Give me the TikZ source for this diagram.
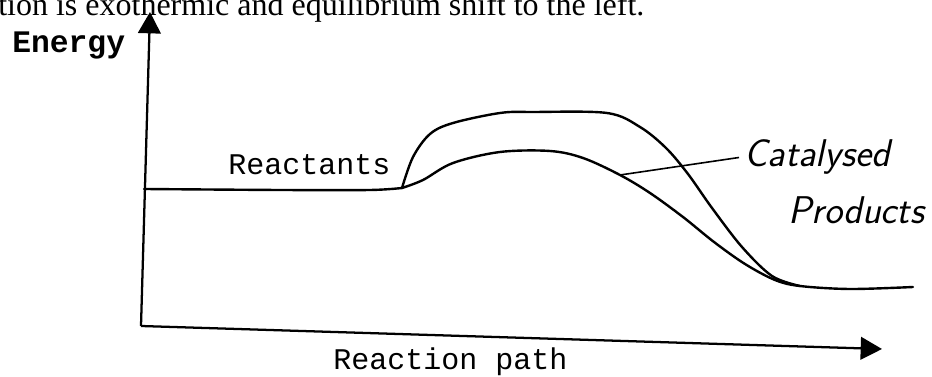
\documentclass[tikz,border=0pt]{standalone}
\usepackage{fontspec}
\setmainfont{Liberation Serif}
\newfontfamily\typefont{Liberation Mono}
\usetikzlibrary{arrows.meta}

\begin{document}
\begin{tikzpicture}[x=0.75pt,y=-0.75pt,
  axis/.style={line width=1.7pt,-{Triangle[length=16pt,width=17pt]}},
  curve/.style={line width=1.8pt,line cap=round,line join=round},
  axistext/.style={font=\typefont\fontsize{22.5}{26}\selectfont,inner sep=0pt,anchor=base west},
  handtext/.style={font=\sffamily\itshape\fontsize{29}{32}\selectfont,inner xsep=4pt,inner ysep=0pt,anchor=base west}]
  \useasboundingbox (0,0) rectangle (932,377);
  \node[anchor=base west,inner sep=0pt,font=\fontsize{24}{28}\selectfont] (caption) at (-2,16) {tion is exothermic and equilibrium shift to the left.};
  \coordinate (origin) at (141,326);
  \coordinate (ytip) at (150,12);
  \coordinate (xtip) at (882,349);
  \draw[axis] (origin) -- (ytip);
  \draw[axis] (origin) -- (xtip);
  \node[axistext,font=\typefont\bfseries\fontsize{23.5}{26}\selectfont] (energy) at (12,53) {Energy};
  \node[axistext] (reactants) at (228,175) {Reactants};
  \node[axistext] (path) at (333,370) {Reaction path};
  \node[handtext] (cat) at (739,167) {Catalysed};
  \node[handtext] (prod) at (783,224) {Products};
  \coordinate (start) at (144,189);
  \coordinate (split) at (402,188);
  \coordinate (ptr) at (620,175);
  \coordinate (merge) at (800,286);
  \coordinate (finish) at (913,287);
  \draw[curve] plot[smooth] coordinates {(start) (280,190) (370,190) (split)};
  \draw[curve] plot[smooth,tension=0.55] coordinates {(split) (413,157) (430,134) (453,123) (500,113) (533,112) (607,113) (640,127) (666,148) (688,174) (712,208) (742,247) (772,276) (merge)};
  \draw[curve] plot[smooth,tension=0.55] coordinates {(split) (423,180) (453,163) (500,152) (550,151) (583,158) (ptr) (650,193) (683,217) (714,242) (745,264) (775,280) (merge) (850,289) (finish)};
  \draw[line width=1.2pt] (ptr) -- (cat.west);
\end{tikzpicture}
\end{document}
